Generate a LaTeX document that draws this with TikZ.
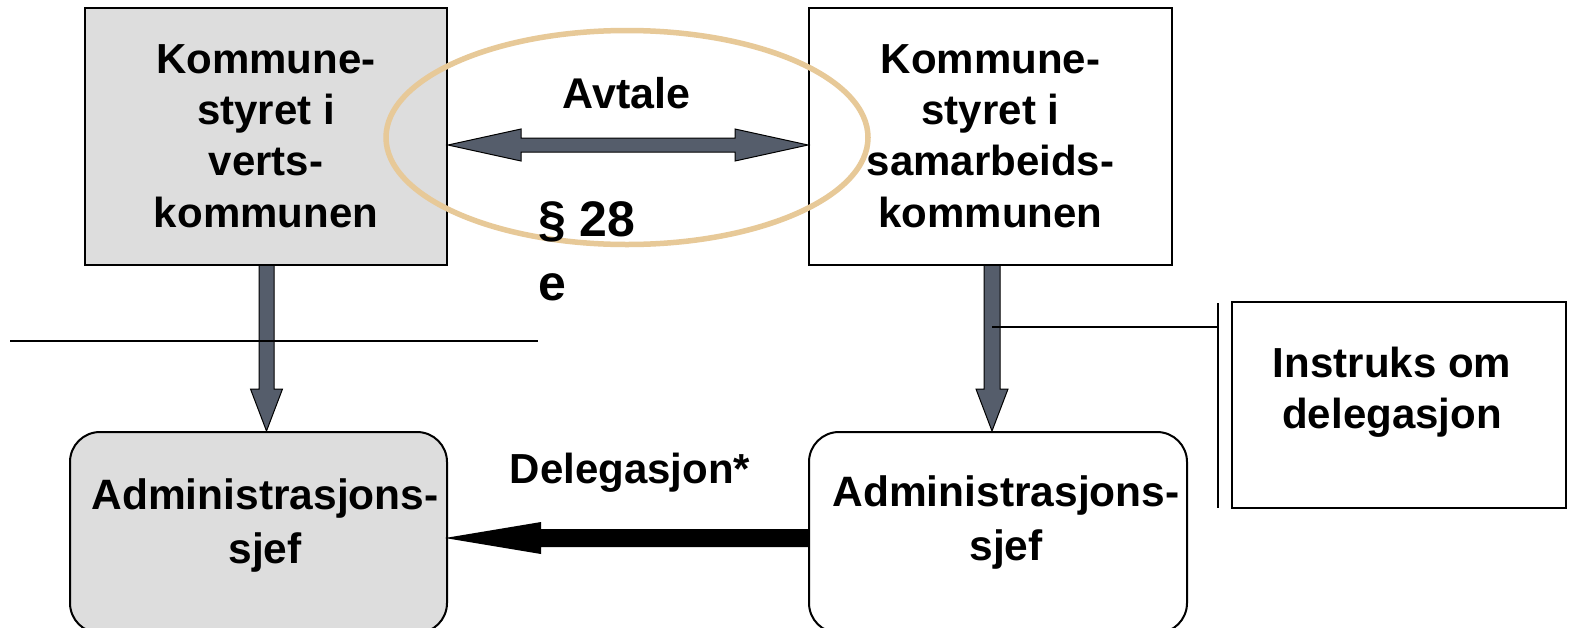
\documentclass[tikz,border=0pt]{standalone}
\usepackage{fontspec}
\setmainfont{Liberation Sans}
\usetikzlibrary{calc}
\definecolor{boxgray}{RGB}{221,221,221}
\definecolor{arrowgray}{RGB}{85,93,107}
\definecolor{ringtan}{RGB}{231,201,152}
\begin{document}
\begin{tikzpicture}[x=1pt,y=-1pt,
  sqbox/.style={draw=black, line width=2pt, inner sep=0pt},
  rbox/.style={draw=black, line width=2pt, rounded corners=30pt, inner sep=0pt},
  txt/.style={font=\fontsize{42}{51.3}\selectfont\bfseries, align=center, inner sep=0pt},
  admtxt/.style={font=\fontsize{42.5}{54}\selectfont\bfseries, align=center, inner sep=0pt},
  bigtxt/.style={font=\fontsize{50}{65}\selectfont\bfseries, inner sep=0pt},
  blockarrow/.style={fill=arrowgray, draw=black, line width=1pt, line join=miter},
  thin/.style={draw=black, line width=1.5pt}]
\useasboundingbox (0,0) rectangle (1571,627);
\clip (0,0) rectangle (1571,627);
\fill[white] (0,0) rectangle (1571,627);

% boxes
\node[sqbox, fill=boxgray, minimum width=362pt, minimum height=257pt] (vk) at (266,136.5) {};
\node[sqbox, fill=white, minimum width=363pt, minimum height=257pt] (sk) at (990.5,136.5) {};
\node[rbox, fill=boxgray, minimum width=377pt, minimum height=201pt] (as1) at (258.5,532.5) {};
\node[rbox, fill=white, minimum width=378pt, minimum height=201pt] (as2) at (998,532.5) {};
\node[sqbox, line width=2.5pt, fill=white, minimum width=334pt, minimum height=206pt] (ins) at (1399,405) {};

% helper coordinates
\coordinate (ya) at (0,145);
\coordinate (yb) at (0,538);
\coordinate (yl) at (0,327);
\coordinate (dl) at (vk.east |- ya);
\coordinate (dr) at (sk.west |- ya);
\coordinate (t1) at ($(vk.south)+(0.5,0)$);
\coordinate (p1) at (t1 |- as1.north);
\coordinate (t2) at ($(sk.south)+(1.5,0)$);
\coordinate (p2) at (t2 |- as2.north);
\coordinate (bl) at ($(as1.east |- yb)+(-3,0)$);
\coordinate (br) at (as2.west |- yb);
\coordinate (lj) at (t2 |- yl);
\coordinate (lk) at (1218,327);
\coordinate (vt) at (1218,303);
\coordinate (vb) at (1218,508);
\coordinate (hl) at (10,341);
\coordinate (hr) at (538,341);

% double block arrow (Avtale)
\path[blockarrow] (dl) -- ++(73,-16) -- ++(0,9) -- ($(dr)+(-73,-7)$) -- ++(0,-9)
  -- (dr) -- ++(-73,16) -- ++(0,-9) -- ($(dl)+(73,7)$) -- ++(0,9) -- cycle;

% vertical block arrows
\path[blockarrow] ($(t1)+(-7.5,0)$) -- ($(p1)+(-7.5,-42)$) -- ++(-8.5,0) -- (p1)
  -- ($(p1)+(16,-42)$) -- ++(-8.5,0) -- ($(t1)+(7.5,0)$);
\path[blockarrow] ($(t2)+(-8,0)$) -- ($(p2)+(-8,-42)$) -- ++(-8,0) -- (p2)
  -- ($(p2)+(16,-42)$) -- ++(-8,0) -- ($(t2)+(8,0)$);

% connector lines to Instruks
\draw[thin] (lj) -- (lk);
\draw[thin] (vt) -- (vb);

% horizontal separator line
\draw[line width=2.5pt] (hl) -- (hr);

% black delegation arrow
\fill[black] (bl) -- ++(96,-16) -- ++(0,7) -- ($(br)+(0,-9)$) -- ++(0,18)
  -- ($(bl)+(96,9)$) -- ++(0,7) -- cycle;

% ellipse
\draw[ringtan, line width=5.5pt] (627,137.5) ellipse [x radius=241, y radius=107];

% texts
\node[txt] (tvk) at (266,136) {Kommune-\\styret i\\verts-\\kommunen};
\node[txt] (tsk) at (990.5,136) {Kommune-\\styret i\\samarbeids-\\kommunen};
\node[admtxt] (tas1) at (265,525.5) {Administrasjons-\\sjef};
\node[admtxt] (tas2) at (1006,523) {Administrasjons-\\sjef};
\node[txt] (tins) at (1392,392) {Instruks om\\delegasjon};
\node[txt, font=\fontsize{43}{50}\selectfont\bfseries, anchor=base] (avt) at (626.5,108) {Avtale};
\node[txt, anchor=base] (del) at (630,483) {Delegasjon*};
\node[bigtxt, anchor=base west] (par) at (538,236) {§ 28};
\node[bigtxt, anchor=base west] (pare) at (538,300) {e};
\end{tikzpicture}
\end{document}
